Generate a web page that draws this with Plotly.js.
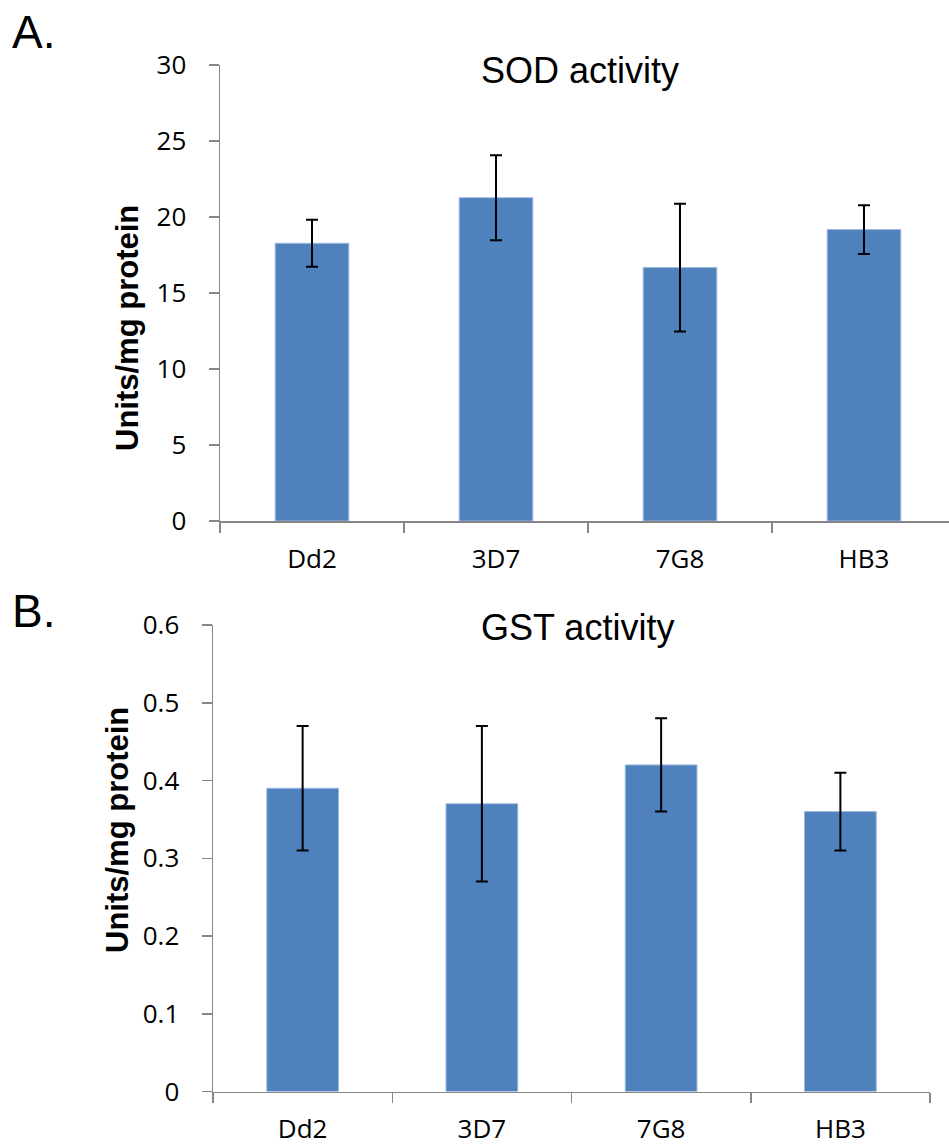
<!DOCTYPE html>
<html>
<head>
<meta charset="utf-8">
<script src="https://cdn.plot.ly/plotly-3.0.1.min.js"></script>
<style>
html,body{margin:0;padding:0;background:#fff;}
#chart{width:949px;height:1148px;}
</style>
</head>
<body>
<div id="chart"></div>
<script>
// Data
const strains = ["Dd2", "3D7", "7G8", "HB3"];
const sodValues = [18.27, 21.27, 16.67, 19.17];
const sodErrors = [1.55, 2.8, 4.2, 1.6];
const gstValues = [0.39, 0.37, 0.42, 0.36];
const gstErrors = [0.08, 0.10, 0.06, 0.05];
const sodTicks = [0, 5, 10, 15, 20, 25, 30];
const gstTicks = [0, 0.1, 0.2, 0.3, 0.4, 0.5, 0.6];
const gstTickText = ["0", "0.1", "0.2", "0.3", "0.4", "0.5", "0.6"];

const W = 949, H = 1148;
const barColor = "#4F81BD";
const axisColor = "#868686";
const tickFont = {family: "Open Sans, sans-serif", size: 26, color: "#000"};

function px(x) { return x / W; }
function py(y) { return 1 - y / H; }

const errStyle = {type: "data", symmetric: true, color: "#000", thickness: 2, width: 6, visible: true};

const traces = [
  {
    type: "bar", x: strains, y: sodValues, xaxis: "x", yaxis: "y",
    width: 0.4,
    marker: {color: barColor, line: {color: "#9db7dc", width: 1}},
    error_y: Object.assign({array: sodErrors}, errStyle),
    hoverinfo: "x+y", showlegend: false
  },
  {
    type: "bar", x: strains, y: gstValues, xaxis: "x2", yaxis: "y2",
    width: 0.4,
    marker: {color: barColor, line: {color: "#9db7dc", width: 1}},
    error_y: Object.assign({array: gstErrors}, errStyle),
    hoverinfo: "x+y", showlegend: false
  }
];

const xCommon = {
  type: "category", showline: true, linecolor: axisColor, linewidth: 1.5,
  ticks: "outside", tickson: "boundaries", ticklen: 10, tickcolor: axisColor, tickwidth: 1.5,
  showgrid: false, zeroline: false, tickfont: tickFont, ticklabelstandoff: 14,
  fixedrange: true
};
const yCommon = {
  showline: true, linecolor: axisColor, linewidth: 1.5,
  ticks: "outside", ticklen: 10, tickcolor: axisColor, tickwidth: 1.5,
  showgrid: false, zeroline: false, tickfont: tickFont, ticklabelstandoff: 17,
  fixedrange: true
};

const layout = {
  width: W, height: H,
  margin: {l: 0, r: 0, t: 0, b: 0, pad: 0},
  paper_bgcolor: "#fff", plot_bgcolor: "#fff",
  showlegend: false,
  bargap: 0.6,
  xaxis: Object.assign({}, xCommon, {domain: [px(220), 1], range: [-0.5, 3.462], anchor: "y"}),
  yaxis: Object.assign({}, yCommon, {domain: [py(521), py(65)], range: [0, 30], tickvals: sodTicks, anchor: "x"}),
  xaxis2: Object.assign({}, xCommon, {domain: [px(213), px(930)], range: [-0.5, 3.5], anchor: "y2"}),
  yaxis2: Object.assign({}, yCommon, {domain: [py(1091.5), py(625)], range: [0, 0.6], tickvals: gstTicks, ticktext: gstTickText, anchor: "x2"}),
  annotations: [
    {text: "A.", x: px(10), y: py(4), xref: "paper", yref: "paper", xanchor: "left", yanchor: "top",
     showarrow: false, font: {family: "Liberation Sans, Arial, sans-serif", size: 46, color: "#000"}},
    {text: "B.", x: px(10), y: py(583), xref: "paper", yref: "paper", xanchor: "left", yanchor: "top",
     showarrow: false, font: {family: "Liberation Sans, Arial, sans-serif", size: 46, color: "#000"}},
    {text: "SOD activity", x: px(580), y: py(70), xref: "paper", yref: "paper", xanchor: "center", yanchor: "middle",
     showarrow: false, font: {family: "Liberation Sans, Arial, sans-serif", size: 36, color: "#000"}},
    {text: "GST activity", x: px(577), y: py(628), xref: "paper", yref: "paper", xanchor: "center", yanchor: "middle",
     showarrow: false, font: {family: "Liberation Sans, Arial, sans-serif", size: 36, color: "#000"}},
    {text: "<b>Units/mg protein</b>", x: px(127), y: py(328), xref: "paper", yref: "paper", xanchor: "center", yanchor: "middle",
     textangle: -90, showarrow: false, font: {family: "Liberation Sans, Arial, sans-serif", size: 31, color: "#000"}},
    {text: "<b>Units/mg protein</b>", x: px(117), y: py(830), xref: "paper", yref: "paper", xanchor: "center", yanchor: "middle",
     textangle: -90, showarrow: false, font: {family: "Liberation Sans, Arial, sans-serif", size: 31, color: "#000"}}
  ]
};

Plotly.newPlot("chart", traces, layout, {displayModeBar: false, staticPlot: true});
</script>
</body>
</html>
